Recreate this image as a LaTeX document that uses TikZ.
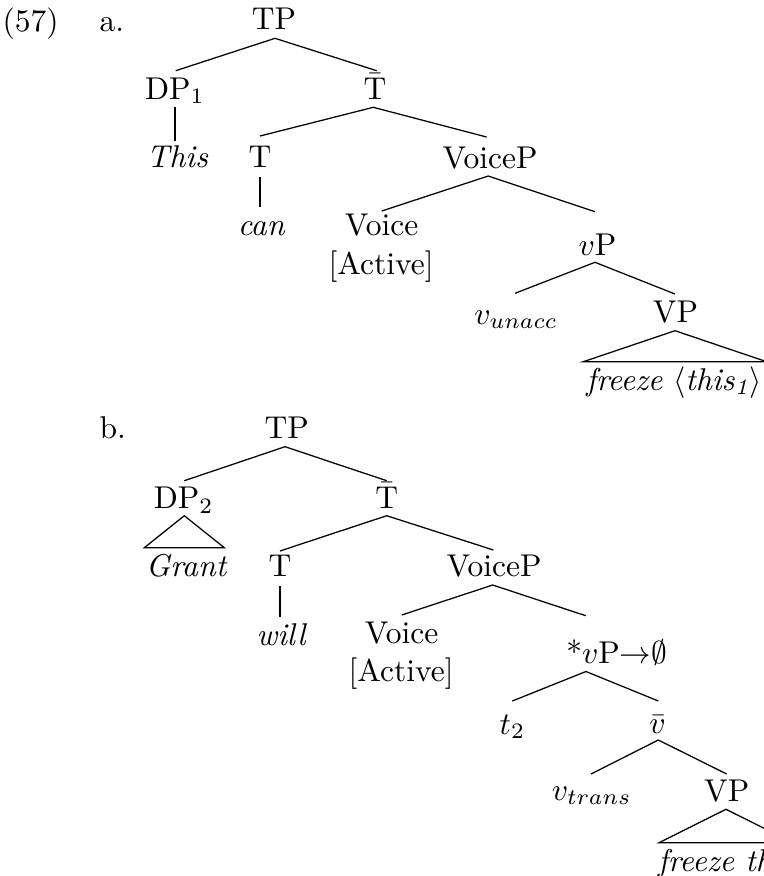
\documentclass[tikz,border=0pt]{standalone}
\usetikzlibrary{calc}
\begin{document}
\begin{tikzpicture}[x=0.31746pt,y=-0.31746pt,
  tn/.style={anchor=base,inner sep=0pt},
  lab/.style={anchor=base west,inner sep=0pt},
  br/.style={line width=0.4pt}]
\useasboundingbox (0,0) rectangle (764,876);
\clip (0,0) rectangle (764,876);
% ---------- tree a ----------
\node[lab] (n57) at (2,31.5) {(57)};
\node[lab] (la) at (99,31.5) {a.};
\node[tn] (aTP) at (274,29.5) {TP};
\node[tn] (aDP) at (175,99) {DP$_1$};
\node[tn] (aTb) at (375,99) {$\bar{\mathrm{T}}$};
\node[tn] (aThis) at (177.5,167) {\textit{This}};
\node[tn] (aT) at (260,167) {T};
\node[tn] (acan) at (261.5,235) {\textit{can}};
\node[tn] (aVoiceP) at (490,168) {VoiceP};
\node[tn] (aVoice) at (381.7,235.7) {Voice};
\node[tn] (aAct) at (381,274) {[Active]};
\node[tn] (avP) at (597.5,255) {$v$P};
\node[tn] (avun) at (516,324) {$v_{unacc}$};
\node[tn] (aVP) at (675.5,322) {VP};
\node[tn] (afr) at (674,390) {\textit{freeze} $\langle$\textit{this\textsubscript{1}}$\rangle$};
\draw[br] ($(aDP.base)+(0.7,-28.3)$) -- ($(aTP.base)+(1,8.8)$) -- ($(aTb.base)+(1.7,-28.3)$);
\draw[br] ($(aDP.base)+(0,8)$) -- ($(aThis.base)+(-2.5,-26)$);
\draw[br] ($(aT.base)+(0,-31)$) -- ($(aTb.base)+(-1.7,8.3)$) -- ($(aVoiceP.base)+(-3.4,-31)$);
\draw[br] ($(aT.base)+(0,9.7)$) -- ($(acan.base)+(-1.5,-28.3)$);
\draw[br] ($(aVoice.base)+(0,-24.7)$) -- ($(aVoiceP.base)+(-1.7,8)$) -- ($(avP.base)+(-2.5,-43.3)$);
\draw[br] ($(avun.base)+(-1,-30.7)$) -- ($(avP.base)+(-2.5,7.3)$) -- ($(aVP.base)+(-0.5,-28)$);
\draw[br] ($(afr.base)+(-90.7,-28.3)$) -- ($(aVP.base)+(-0.5,8.7)$) -- ($(afr.base)+(92.7,-28.3)$) -- cycle;
% ---------- tree b ----------
\node[lab] (lb) at (99,438.3) {b.};
\node[tn] (bTP) at (286.7,438) {TP};
\node[tn] (bDP) at (183.7,508.3) {DP$_2$};
\node[tn] (bTb) at (386.7,508.3) {$\bar{\mathrm{T}}$};
\node[tn] (bGrant) at (186.7,576.7) {\textit{Grant}};
\node[tn] (bT) at (280,576.7) {T};
\node[tn] (bwill) at (281.7,645) {\textit{will}};
\node[tn] (bVoiceP) at (494,576.7) {VoiceP};
\node[tn] (bVoice) at (401.7,643.3) {Voice};
\node[tn] (bAct) at (401,681.7) {[Active]};
\node[tn] (bstar) at (616.7,663.3) {*$v$P$\mathord{\rightarrow}\mathord{\emptyset}$};
\node[tn] (bt) at (512.5,734) {$t_2$};
\node[tn] (bvb) at (657.5,733) {$\bar{v}$};
\node[tn] (bvtr) at (591.7,800) {$v_{trans}$};
\node[tn] (bVP) at (726.7,801) {VP};
\node[tn] (bfr) at (726.5,871) {\textit{freeze this}};
\draw[br] ($(bDP.base)+(0.6,-27.6)$) -- ($(bTP.base)+(-1.7,8.7)$) -- ($(bTb.base)+(0,-27.6)$);
\draw[br] ($(bGrant.base)+(-42.4,-29)$) -- ($(bDP.base)+(0.6,7.4)$) -- ($(bGrant.base)+(37.6,-29)$) -- cycle;
\draw[br] ($(bT.base)+(0,-25.7)$) -- ($(bTb.base)+(0,7.4)$) -- ($(bVoiceP.base)+(-0.6,-26.7)$);
\draw[br] ($(bT.base)+(0,9.3)$) -- ($(bwill.base)+(-1.7,-28.3)$);
\draw[br] ($(bVoice.base)+(0,-28.3)$) -- ($(bVoiceP.base)+(-1.3,8.3)$) -- ($(bstar.base)+(-31,-47.6)$);
\draw[br] ($(bt.base)+(-0.2,-33)$) -- ($(bstar.base)+(-30.7,8.2)$) -- ($(bvb.base)+(0.8,-32)$);
\draw[br] ($(bvtr.base)+(-0.7,-26)$) -- ($(bvb.base)+(0.8,7)$) -- ($(bVP.base)+(0,-27)$);
\draw[br] ($(bfr.base)+(-67.5,-28.3)$) -- ($(bVP.base)+(-0.7,8.3)$) -- ($(bfr.base)+(66.5,-28.3)$) -- cycle;
\end{tikzpicture}
\end{document}
